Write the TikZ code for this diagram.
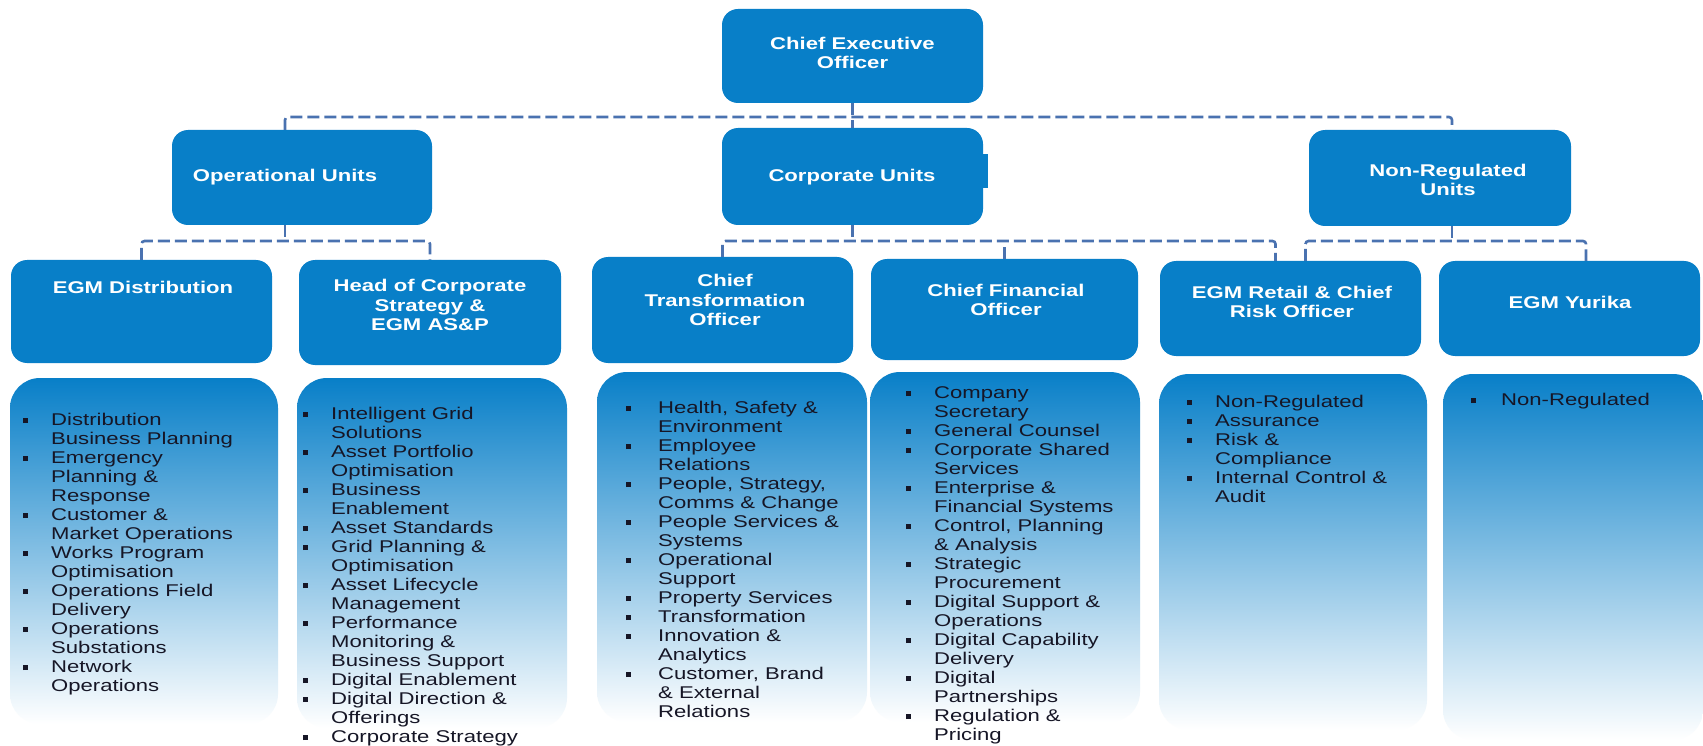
\documentclass[tikz,border=0pt]{standalone}
\usepackage{fontspec}
\setmainfont{Liberation Sans}[FakeStretch=1.3]
\usetikzlibrary{calc}

\definecolor{unitblue}{RGB}{8,127,200}
\definecolor{linkblue}{RGB}{74,114,176}
\definecolor{listink}{RGB}{22,22,38}

\newcommand\bulletmark{\raisebox{2pt}{\rule{5pt}{5pt}}}

\tikzset{
  unitbox/.style={fill=unitblue, draw=none, rounded corners=16pt, inner sep=0pt, outer sep=0pt},
  unitlabel/.style={text=white, font=\fontsize{17}{19.5}\selectfont\bfseries, align=center, inner sep=0pt},
  link/.style={draw=linkblue, line width=2.6pt, dash pattern=on 12pt off 5pt, rounded corners=3pt},
  listbox/.style={top color=unitblue, middle color=unitblue!50!white, bottom color=white, rounded corners=30pt},
  listtext/.style={text=listink, font=\fontsize{17}{19}\selectfont, inner sep=0pt, anchor=north west},
}

\begin{document}
\begin{tikzpicture}[x=1pt,y=1pt]
\useasboundingbox (0,0) rectangle (1703,-746);
\fill[white] (0,0) rectangle (1703,-746);

% ---- function panels (fading) ----
\shade[listbox] (10,-378) rectangle (278,-724);
\shade[listbox] (297,-378) rectangle (567,-728);
\shade[listbox] (597,-372) rectangle (867,-722);
\shade[listbox] (870,-372) rectangle (1140,-722);
\shade[listbox] (1159,-374) rectangle (1427,-730);
\shade[listbox] (1443,-374) rectangle (1703,-740);

% ---- unit boxes ----
\node[unitbox, minimum width=261pt, minimum height=94pt] (ceo) at (852.5,-56) {};
\node[unitbox, minimum width=260pt, minimum height=95pt] (op) at (302,-177.5) {};
\node[unitbox, minimum width=261pt, minimum height=97pt] (corp) at (852.5,-176.5) {};
\fill[unitblue] (982,-154) rectangle (988,-188);
\node[unitbox, minimum width=262pt, minimum height=96pt] (nonreg) at (1440,-178) {};

\node[unitbox, minimum width=261pt, minimum height=103pt] (dist) at (141.5,-311.5) {};
\node[unitbox, minimum width=262pt, minimum height=105pt] (head) at (430,-312.5) {};
\node[unitbox, minimum width=261pt, minimum height=106pt] (cto) at (722.5,-310) {};
\node[unitbox, minimum width=267pt, minimum height=101pt] (cfo) at (1004.5,-309.5) {};
\node[unitbox, minimum width=261pt, minimum height=95pt] (retail) at (1290.5,-308.5) {};
\node[unitbox, minimum width=261pt, minimum height=95pt] (yurika) at (1569.5,-308.5) {};

% ---- titles ----
\node[unitlabel] (ceoT) at (852.5,-53) {Chief Executive\\Officer};
\node[unitlabel] (opT) at (285,-177) {Operational Units};
\node[unitlabel] (corpT) at (852,-177) {Corporate Units};
\node[unitlabel] (nonregT) at (1448,-180) {Non-Regulated\\Units};
\node[unitlabel] (distT) at (143,-287) {EGM Distribution};
\node[unitlabel] (headT) at (430,-305) {Head of Corporate\\Strategy \&\\EGM AS\&P};
\node[unitlabel] (ctoT) at (725,-300) {Chief\\Transformation\\Officer};
\node[unitlabel] (cfoT) at (1006,-300) {Chief Financial\\Officer};
\node[unitlabel] (retailT) at (1292,-302) {EGM Retail \& Chief\\Risk Officer};
\node[unitlabel] (yurikaT) at (1570,-302) {EGM Yurika};

% ---- reporting lines ----
\draw[link] (ceo.south) -- (corp.north);
\draw[link] ([xshift=-17pt]op.north) -- ++(0,13) -| ([xshift=12pt]nonreg.north);

\draw[link] ([xshift=-17pt]op.south) -- ++(0,-16) coordinate (opbus);
\draw[link] (dist.north) |- (opbus) -| (head.north);

\draw[link] (corp.south) -- ++(0,-16) coordinate (corpbus);
\draw[link] (cto.north) |- (corpbus) -| ([xshift=-15pt]retail.north);
\draw[link] (cfo.north) -- (cfo.north |- corpbus);

\draw[link] ([xshift=12pt]nonreg.south) -- ++(0,-15) coordinate (nonregbus);
\draw[link] ([xshift=15pt]retail.north) |- (nonregbus) -| ([xshift=16.5pt]yurika.north);

% ---- function lists ----
\node[listtext] (distL) at (23,-411.7) {\begin{tabular}{@{}p{28pt}@{}l@{}}
\bulletmark & Distribution\\
 & Business Planning\\
\bulletmark & Emergency\\
 & Planning \&\\
 & Response\\
\bulletmark & Customer \&\\
 & Market Operations\\
\bulletmark & Works Program\\
 & Optimisation\\
\bulletmark & Operations Field\\
 & Delivery\\
\bulletmark & Operations\\
 & Substations\\
\bulletmark & Network\\
 & Operations
\end{tabular}};

\node[listtext] (headL) at (303,-405.7) {\begin{tabular}{@{}p{28pt}@{}l@{}}
\bulletmark & Intelligent Grid\\
 & Solutions\\
\bulletmark & Asset Portfolio\\
 & Optimisation\\
\bulletmark & Business\\
 & Enablement\\
\bulletmark & Asset Standards\\
\bulletmark & Grid Planning \&\\
 & Optimisation\\
\bulletmark & Asset Lifecycle\\
 & Management\\
\bulletmark & Performance\\
 & Monitoring \&\\
 & Business Support\\
\bulletmark & Digital Enablement\\
\bulletmark & Digital Direction \&\\
 & Offerings\\
\bulletmark & Corporate Strategy
\end{tabular}};

\node[listtext] (ctoL) at (626,-399.7) {\begin{tabular}{@{}p{32pt}@{}l@{}}
\bulletmark & Health, Safety \&\\
 & Environment\\
\bulletmark & Employee\\
 & Relations\\
\bulletmark & People, Strategy,\\
 & Comms \& Change\\
\bulletmark & People Services \&\\
 & Systems\\
\bulletmark & Operational\\
 & Support\\
\bulletmark & Property Services\\
\bulletmark & Transformation\\
\bulletmark & Innovation \&\\
 & Analytics\\
\bulletmark & Customer, Brand\\
 & \& External\\
 & Relations
\end{tabular}};

\node[listtext] (cfoL) at (906,-384.7) {\begin{tabular}{@{}p{28pt}@{}l@{}}
\bulletmark & Company\\
 & Secretary\\
\bulletmark & General Counsel\\
\bulletmark & Corporate Shared\\
 & Services\\
\bulletmark & Enterprise \&\\
 & Financial Systems\\
\bulletmark & Control, Planning\\
 & \& Analysis\\
\bulletmark & Strategic\\
 & Procurement\\
\bulletmark & Digital Support \&\\
 & Operations\\
\bulletmark & Digital Capability\\
 & Delivery\\
\bulletmark & Digital\\
 & Partnerships\\
\bulletmark & Regulation \&\\
 & Pricing
\end{tabular}};

\node[listtext] (retailL) at (1187,-393.7) {\begin{tabular}{@{}p{28pt}@{}l@{}}
\bulletmark & Non-Regulated\\
\bulletmark & Assurance\\
\bulletmark & Risk \&\\
 & Compliance\\
\bulletmark & Internal Control \&\\
 & Audit
\end{tabular}};

\node[listtext] (yurikaL) at (1471,-391.7) {\begin{tabular}{@{}p{30pt}@{}l@{}}
\bulletmark & Non-Regulated
\end{tabular}};

\end{tikzpicture}
\end{document}
